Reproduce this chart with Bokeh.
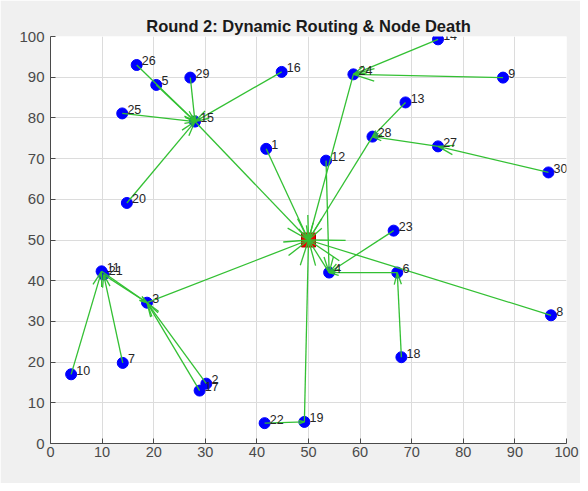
import numpy as np
from bokeh.plotting import figure
from bokeh.models import ColumnDataSource, FixedTicker, LabelSet
from bokeh.core.properties import value
from bokeh.embed import file_html
from bokeh.resources import INLINE

# ---------------- data ----------------
node_ids = [1, 2, 3, 4, 5, 6, 7, 8, 9, 10,
            11, 12, 13, 14, 15, 16, 17, 18, 19, 20,
            21, 22, 23, 24, 25, 26, 27, 28, 29, 30]
node_x = [41.8, 30.2, 18.7, 54.0, 20.5, 67.2, 14.0, 97.0, 87.7, 4.0,
          9.9, 53.4, 68.8, 75.1, 28.0, 44.8, 28.9, 68.0, 49.2, 14.8,
          10.3, 41.5, 66.5, 58.7, 13.9, 16.7, 75.1, 62.4, 27.1, 96.5]
node_y = [72.4, 14.7, 34.6, 42.0, 88.1, 42.0, 19.8, 31.5, 89.9, 17.0,
          42.3, 69.5, 83.8, 99.3, 79.1, 91.3, 13.0, 21.2, 5.3, 59.1,
          41.5, 5.0, 52.3, 90.7, 81.1, 93.0, 73.0, 75.4, 89.9, 66.6]
sink_x = [50.0]
sink_y = [50.0]

# routing (from node -> to node, 0 = sink)
edge_from = [14, 9, 24, 26, 5, 29, 16, 25, 20, 15, 1, 12, 4, 13, 27, 30, 28,
             23, 6, 18, 8, 10, 7, 11, 21, 2, 17, 3, 22, 19]
edge_to = [24, 24, 0, 15, 15, 15, 15, 15, 15, 0, 0, 4, 0, 28, 28, 27, 0,
           4, 4, 6, 0, 11, 21, 3, 3, 3, 3, 0, 19, 0]

ticks = [0, 10, 20, 30, 40, 50, 60, 70, 80, 90, 100]
title_text = "Round 2: Dynamic Routing & Node Death"

# ---------------- figure ----------------
FW, FH = 516, 407
p = figure(frame_width=FW, frame_height=FH, output_backend="svg", toolbar_location=None,
           x_range=(0, 100), y_range=(0, 100),
           min_border_left=50, min_border_right=14, min_border_top=36, min_border_bottom=40,
           title=title_text)
p.background_fill_color = "white"
p.border_fill_color = "#f0f0f0"
p.outline_line_color = None

p.title.align = "center"
p.title.text_font = "Liberation Sans"
p.title.text_font_size = "16.5px"
p.title.text_font_style = "bold"
p.title.text_color = "#1a1a1a"
p.title.standoff = 3

for ax in (p.xaxis[0], p.yaxis[0]):
    ax.ticker = FixedTicker(ticks=ticks)
    ax.major_tick_in = 5
    ax.major_tick_out = 0
    ax.minor_tick_line_color = None
    ax.axis_line_color = "#4a4a4a"
    ax.major_tick_line_color = "#4a4a4a"
    ax.major_label_text_font = "Liberation Sans"
    ax.major_label_text_color = "#4a4a4a"
p.xaxis.major_label_text_font_size = "14.5px"
p.yaxis.major_label_text_font_size = "15px"
p.xaxis.major_label_standoff = 3
p.yaxis.major_label_standoff = 6

p.grid.ticker = FixedTicker(ticks=ticks)
p.grid.grid_line_color = "#dcdcdc"
p.grid.grid_line_width = 1

# ---------------- nodes ----------------
src = ColumnDataSource(dict(x=node_x, y=node_y,
                            lx=[v + 1.0 for v in node_x], ly=[v + 1.0 for v in node_y],
                            lab=[str(i) for i in node_ids]))
p.scatter("x", "y", source=src, size=11, fill_color="#0000ff", line_color="#0000ff")

p.scatter(sink_x, sink_y, marker="square", size=14, fill_color="#ee0000", line_color="#aa0000")

# ---------------- arrows ----------------
pos = {i: (x, y) for i, x, y in zip(node_ids, node_x, node_y)}
pos[0] = (sink_x[0], sink_y[0])
sx, sy = FW / 100.0, FH / 100.0
x0, y0, x1, y1 = [], [], [], []
hx0, hy0, hx1, hy1 = [], [], [], []
for a, b in zip(edge_from, edge_to):
    ax_, ay_ = pos[a]
    bx_, by_ = pos[b]
    x0.append(ax_); y0.append(ay_); x1.append(bx_); y1.append(by_)
    dxp, dyp = (bx_ - ax_) * sx, (by_ - ay_) * sy
    L = np.hypot(dxp, dyp)
    ux, uy = dxp / L, dyp / L
    h = 0.14 * L
    w = 0.3 * h
    basex, basey = -ux * h, -uy * h
    for sgn in (1, -1):
        px_ = basex + sgn * (-uy) * w
        py_ = basey + sgn * ux * w
        hx0.append(bx_); hy0.append(by_)
        hx1.append(bx_ + px_ / sx); hy1.append(by_ + py_ / sy)

green = "#33c033"
p.segment(x0, y0, x1, y1, line_color=green, line_width=1.3)
p.segment(hx0, hy0, hx1, hy1, line_color=green, line_width=1.3)

labels = LabelSet(x="lx", y="ly", text="lab", source=src, text_font=value("Liberation Sans"),
                  text_font_size="12.5px", text_color="#262626",
                  text_baseline="middle", text_align="left")
p.add_layout(labels)

open("out.html", "w").write(file_html(p, INLINE))
